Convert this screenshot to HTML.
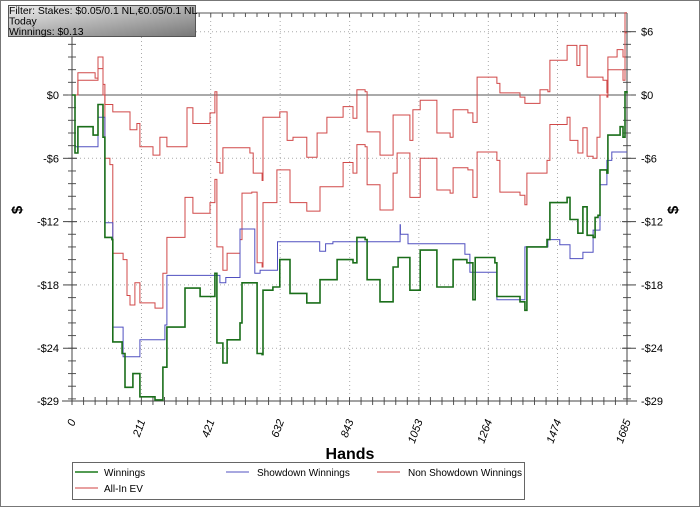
<!DOCTYPE html>
<html><head><meta charset="utf-8"><style>
body{margin:0;background:#fff;}
#wrap{position:relative;width:700px;height:507px;overflow:hidden;font-family:"Liberation Sans",sans-serif;}
svg text{font-family:"Liberation Sans",sans-serif;}
</style></head><body>
<div id="wrap">
<svg id="chart" width="700" height="507">
<rect x="0.5" y="0.5" width="699" height="506" fill="#fff" stroke="#777"/>
<g id="grid"></g>
<g id="axes"></g>
<g id="series"></g>
<text x="22" y="210" font-size="15" font-weight="bold" text-anchor="middle" transform="rotate(-90 22 210)">$</text>
<text x="678" y="210" font-size="15" font-weight="bold" text-anchor="middle" transform="rotate(-90 678 210)">$</text>
<text x="350" y="459" font-size="16" font-weight="bold" text-anchor="middle">Hands</text>
<g>
<rect x="72.5" y="462.5" width="452" height="37" fill="#fff" stroke="#666"/>
<g><line x1="75" y1="472" x2="98" y2="472" stroke="#1a7a1a" stroke-width="1.5"/><text x="104" y="476" font-size="10">Winnings</text></g>
<g><line x1="226" y1="472" x2="249" y2="472" stroke="#5050c0"/><text x="257" y="476" font-size="10">Showdown Winnings</text></g>
<g><line x1="377" y1="472" x2="400" y2="472" stroke="#d04040"/><text x="408" y="476" font-size="10">Non Showdown Winnings</text></g>
<g><line x1="75" y1="488" x2="98" y2="488" stroke="#d04040"/><text x="104" y="492" font-size="10">All-In EV</text></g>
</g>
<defs><linearGradient id="fg" x1="0" y1="0" x2="1" y2="1"><stop offset="0" stop-color="#eee"/><stop offset="1" stop-color="#777"/></linearGradient></defs>
<g>
<rect x="8.5" y="5.5" width="187" height="31" fill="url(#fg)" stroke="#555"/>
<text x="9" y="14" font-size="10.4">Filter: Stakes: $0.05/0.1 NL,€0.05/0.1 NL</text>
<text x="9" y="24.5" font-size="10.4">Today</text>
<text x="9" y="35" font-size="10.4">Winnings: $0.13</text>
</g>
</svg>
</div>
<script>
const xTicks=[0,211,421,632,843,1053,1264,1474,1685];
const yTicks=[6,0,-6,-12,-18,-24,-29];
const yTickLabels=["$6","$0","-$6","-$12","-$18","-$24","-$29"];
const winnings=[[0,0],[3,0],[9,-5.5],[18,-3.0],[64,-3.8],[79,-0.9],[94,-4.0],[100,-13.5],[121,-13.7],[124,-23.4],[152,-24.5],[161,-27.7],[185,-26.4],[206,-28.6],[252,-28.9],[276,-25.8],[288,-22.0],[343,-18.3],[389,-19.1],[434,-16.9],[440,-23.5],[458,-25.4],[471,-23.2],[510,-21.6],[516,-17.8],[546,-17.8],[562,-24.5],[577,-24.6],[580,-18.5],[610,-18.2],[631,-15.6],[662,-18.8],[713,-19.7],[753,-17.5],[805,-15.6],[853,-15.9],[865,-13.5],[890,-13.7],[896,-17.5],[935,-19.6],[975,-16.3],[990,-15.4],[1026,-18.5],[1057,-14.7],[1108,-18.2],[1148,-18.2],[1157,-15.6],[1199,-15.9],[1217,-19.4],[1224,-15.4],[1284,-15.9],[1290,-19.1],[1360,-19.6],[1375,-20.4],[1381,-14.4],[1442,-13.7],[1451,-10.2],[1503,-9.7],[1512,-11.8],[1536,-13.1],[1551,-10.6],[1564,-13.3],[1582,-13.5],[1588,-11.6],[1597,-11.4],[1603,-7.1],[1624,-7.4],[1627,-3.8],[1664,-3.0],[1673,-4.0],[1679,0.3],[1685,0.13]];
const showdown=[[0,0],[9,-4.9],[79,-2.1],[100,-12.1],[124,-22],[155,-24.8],[206,-23.2],[282,-21.8],[288,-17.1],[449,-17.8],[467,-17.3],[510,-12.7],[555,-16.9],[571,-16.6],[624,-13.9],[752,-14.8],[770,-14.1],[792,-13.9],[996,-12.3],[997,-13.2],[1020,-14.1],[1193,-15.1],[1208,-16.8],[1290,-19.4],[1375,-14.4],[1445,-13.7],[1481,-14.2],[1512,-15.5],[1551,-14.9],[1582,-12.8],[1603,-8.5],[1624,-6.2],[1639,-5.4],[1685,-5.4]];
const nonShowdown=[[0,0],[3,0],[18,2.1],[70,1.6],[79,3.6],[94,0],[100,-0.9],[124,-1.6],[176,-3.3],[197,-2.7],[206,-4.9],[246,-5.7],[267,-4.0],[288,-4.9],[349,-1.2],[367,-2.7],[419,-1.7],[434,0.3],[440,-6.4],[449,-7.4],[458,-5.0],[540,-5.5],[550,-7.4],[577,-8.1],[580,-2.1],[631,-1.6],[653,-4.3],[671,-4.0],[713,-5.9],[744,-3.6],[774,-2.1],[823,-1.1],[853,-2.2],[865,0.5],[890,0.3],[896,-3.5],[935,-5.7],[975,-1.9],[1026,-4.3],[1035,-1.4],[1057,-0.5],[1108,-3.6],[1148,-4.0],[1157,-1.4],[1202,-1.7],[1217,-2.6],[1230,1.7],[1290,1.1],[1299,0.2],[1360,-0.2],[1375,-0.8],[1421,0.5],[1445,0.3],[1451,3.3],[1503,4.7],[1533,2.8],[1542,4.7],[1564,1.7],[1612,1.4],[1624,0.2],[1627,3.6],[1655,4.3],[1673,3.6],[1679,7.8],[1685,7.8]];
const allInEV=[[0,0],[3,0],[18,1.4],[70,1.4],[79,2.5],[94,1.0],[100,-6.0],[115,-6.6],[124,-15.0],[155,-15.6],[167,-19.0],[176,-19.9],[191,-17.8],[206,-19.7],[252,-20.2],[276,-16.9],[288,-13.5],[343,-9.7],[367,-11.2],[419,-10.2],[434,-8.0],[440,-14.4],[458,-16.6],[471,-15.0],[510,-13.7],[516,-9.3],[546,-9.2],[562,-15.9],[577,-16.3],[580,-10.2],[622,-7.1],[662,-10.2],[713,-11.0],[753,-8.7],[823,-6.4],[853,-7.4],[865,-4.7],[890,-4.9],[896,-8.5],[935,-10.9],[975,-7.4],[987,-5.5],[1026,-9.7],[1057,-6.0],[1108,-9.0],[1148,-9.3],[1157,-6.9],[1202,-7.1],[1217,-9.7],[1230,-5.4],[1290,-6.2],[1299,-9.2],[1360,-9.5],[1375,-10.4],[1381,-7.4],[1442,-6.2],[1451,-2.8],[1503,-2.1],[1512,-4.3],[1536,-5.5],[1551,-3.1],[1564,-5.8],[1582,-6.0],[1594,-4.0],[1603,0],[1624,-0.2],[1627,2.4],[1673,1.4],[1679,5.9],[1685,5.9]];

const X0=72,X1=627,XMAX=1685,Y0=95,PXD=306/29,TOP=13,BOT=401;
function sx(h){return X0+(X1-X0)*h/XMAX;}
function sy(v){return Y0-v*PXD;}
const NS='http://www.w3.org/2000/svg';
function mk(tag,attrs,parent){const e=document.createElementNS(NS,tag);for(const k in attrs)e.setAttribute(k,attrs[k]);parent.appendChild(e);return e;}
const grid=document.getElementById('grid'),axes=document.getElementById('axes'),series=document.getElementById('series');

xTicks.forEach((t,i)=>{
  const x=sx(t);
  if(i>0&&i<xTicks.length-1){
    const g=mk('line',{x1:x,y1:TOP,x2:x,y2:BOT,stroke:'#aaa','stroke-dasharray':'1,3'},grid);
    
    
  }
  const lb=mk('text',{x:x+4,y:BOT+20,'font-size':'11','font-style':'italic','text-anchor':'end',transform:`rotate(-70 ${x+4} ${BOT+20})`},axes);
  lb.textContent=t;
  
  
});
yTicks.forEach((t,i)=>{
  const y=sy(t);
  if(t!==0&&t!==-29){
    const g=mk('line',{x1:X0,y1:y,x2:X1,y2:y,stroke:'#aaa','stroke-dasharray':'1,3'},grid);
    
    
  }
  const l=mk('text',{x:59,y:y+4,'font-size':'11','text-anchor':'end'},axes);
  l.textContent=yTickLabels[i];
  
  
  const r=mk('text',{x:641,y:y+4,'font-size':'11'},axes);
  r.textContent=yTickLabels[i];
  
  
  mk('line',{x1:X0-9,y1:y,x2:X0+5,y2:y,stroke:'#444'},axes);
  mk('line',{x1:X1-5,y1:y,x2:X1+9,y2:y,stroke:'#444'},axes);
});
for(let v=6;v>=-29;v-=1.2){const y=sy(v);if(y>BOT||y<TOP)continue;mk('line',{x1:X0-4,y1:y,x2:X0+4,y2:y,stroke:'#555'},axes);mk('line',{x1:X1-4,y1:y,x2:X1+4,y2:y,stroke:'#555'},axes);}
for(let i=0;i<=48;i++){const x=X0+(X1-X0)*i/48;mk('line',{x1:x,y1:BOT-4,x2:x,y2:BOT+4,stroke:'#555'},axes);mk('line',{x1:x,y1:TOP,x2:x,y2:TOP+4,stroke:'#555'},axes);}
const zl=mk('line',{x1:X0,y1:sy(0),x2:X1,y2:sy(0),stroke:'#555'},axes);


mk('line',{x1:X0,y1:TOP,x2:X1,y2:TOP,stroke:'#555'},axes);
const xa=mk('line',{x1:X0-10,y1:BOT,x2:X1+10,y2:BOT,stroke:'#444'},axes);


const ya=mk('line',{x1:X0,y1:TOP,x2:X0,y2:BOT+4,stroke:'#444'},axes);


const yb=mk('line',{x1:X1,y1:TOP,x2:X1,y2:BOT+4,stroke:'#444'},axes);



function stepPath(d){let s='';d.forEach((p,i)=>{const x=sx(p[0]).toFixed(1),y=sy(p[1]).toFixed(1);if(i===0)s+=`M${x},${y}`;else s+=`H${x}V${y}`;});return s;}
const p1=mk('path',{d:stepPath(allInEV),fill:'none',stroke:'#d04848','stroke-width':'1'},series);


const p2=mk('path',{d:stepPath(nonShowdown),fill:'none',stroke:'#d04848','stroke-width':'1'},series);


const p3=mk('path',{d:stepPath(showdown),fill:'none',stroke:'#5050c0','stroke-width':'1'},series);


const p4=mk('path',{d:stepPath(winnings),fill:'none',stroke:'#1a6e1a','stroke-width':'1.6'},series);


</script>
</body></html>
